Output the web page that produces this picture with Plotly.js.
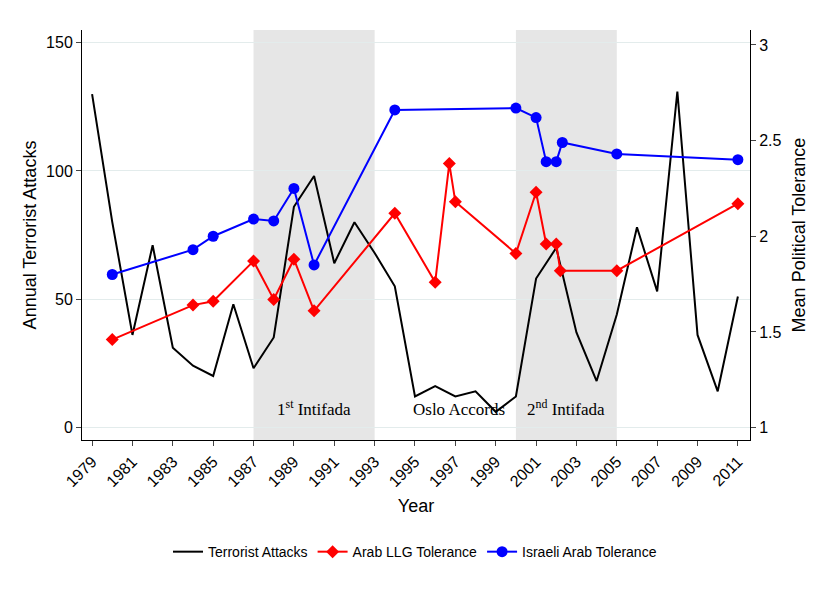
<!DOCTYPE html>
<html><head><meta charset="utf-8">
<script src="https://cdn.plot.ly/plotly-3.0.1.min.js"></script>
<style>body{margin:0;background:#fff}#chart{width:830px;height:608px}</style>
</head><body><div id="chart"></div>
<script>
// terrorist attacks per year
const attackYears = [];
for (let y = 1979; y <= 2011; y++) attackYears.push(y);
const attacks = [130, 80, 36, 71, 31, 24, 20, 48, 23, 35, 86, 98, 64, 80, 68, 55, 12, 16, 12, 14, 6, 12, 58, 70, 37, 18, 44, 78, 53, 131, 36, 14, 51];

// survey waves (Arab LLG tolerance)
const arabYears = [1980, 1984, 1985, 1987, 1988, 1989, 1990, 1994, 1996, 1996.7, 1997, 2000, 2001, 2001.5, 2002, 2002.2, 2005, 2011];
const arabTol = [1.46, 1.64, 1.66, 1.87, 1.67, 1.88, 1.61, 2.12, 1.76, 2.38, 2.18, 1.91, 2.23, 1.96, 1.96, 1.82, 1.82, 2.17];

// survey waves (Israeli Arab tolerance)
const israeliYears = [1980, 1984, 1985, 1987, 1988, 1989, 1990, 1994, 2000, 2001, 2001.5, 2002, 2002.3, 2005, 2011];
const israeliTol = [1.80, 1.93, 2.00, 2.09, 2.08, 2.25, 1.85, 2.66, 2.67, 2.62, 2.39, 2.39, 2.49, 2.43, 2.40];

const periods = [
  { x0: 1987, x1: 1993 },
  { x0: 2000, x1: 2005 }
];
const periodLabels = [
  { x: 1990, text: '1<sup>st</sup> Intifada' },
  { x: 1997.2, text: 'Oslo Accords' },
  { x: 2002.5, text: '2<sup>nd</sup> Intifada' }
];
const xTicks = [];
for (let y = 1979; y <= 2011; y += 2) xTicks.push(y);

const data = [
  { x: attackYears, y: attacks, type: 'scatter', mode: 'lines', name: 'Terrorist Attacks',
    line: { color: '#000000', width: 2 } },
  { x: arabYears, y: arabTol, yaxis: 'y2', type: 'scatter', mode: 'lines+markers', name: 'Arab LLG Tolerance',
    line: { color: '#ff0000', width: 2 }, marker: { symbol: 'diamond', size: 10, color: '#ff0000' } },
  { x: israeliYears, y: israeliTol, yaxis: 'y2', type: 'scatter', mode: 'lines+markers', name: 'Israeli Arab Tolerance',
    line: { color: '#0000ff', width: 2 }, marker: { symbol: 'circle', size: 11, color: '#0000ff' } }
];

const layout = {
  width: 830, height: 608,
  paper_bgcolor: '#fff', plot_bgcolor: '#fff',
  font: { family: 'Liberation Sans, Arial', color: '#000', size: 15 },
  margin: { l: 82, r: 80, t: 30, b: 168 },
  showlegend: true,
  legend: { orientation: 'h', x: 0.5, xanchor: 'center', xref: 'container', yref: 'container',
    y: 0.092, yanchor: 'middle', font: { size: 14 } },
  xaxis: { range: [1978.5, 2011.6], tickvals: xTicks, tickangle: -45, ticks: 'outside', automargin: false,
    showgrid: false, zeroline: false, showline: true, linecolor: '#000', tickfont: { size: 16 },
    title: { text: 'Year', font: { size: 18 }, standoff: 10 } },
  yaxis: { range: [-5, 155], tickvals: [0, 50, 100, 150], ticks: 'outside', showline: true, linecolor: '#000',
    gridcolor: '#e3ecec', zeroline: false, tickfont: { size: 16 }, automargin: false,
    title: { text: 'Annual Terrorist Attacks', font: { size: 18 } } },
  yaxis2: { overlaying: 'y', side: 'right', range: [0.935, 3.078], tickvals: [1, 1.5, 2, 2.5, 3],
    ticktext: ['1', '1.5', '2', '2.5', '3'], ticks: 'outside', showline: true, linecolor: '#000',
    showgrid: false, zeroline: false, tickfont: { size: 16 }, automargin: false,
    title: { text: 'Mean Political Tolerance', font: { size: 18 } } },
  shapes: periods.map(p => ({ type: 'rect', xref: 'x', yref: 'paper', x0: p.x0, x1: p.x1, y0: 0, y1: 1,
    fillcolor: '#e6e6e6', line: { width: 0 }, layer: 'below' })),
  annotations: periodLabels.map(a => ({ x: a.x, y: 0, xref: 'x', yref: 'y', yshift: 6, yanchor: 'bottom',
    text: a.text, showarrow: false, font: { family: 'Liberation Serif, Times New Roman', size: 17 } }))
};

Plotly.newPlot('chart', data, layout, { displayModeBar: false });
</script></body></html>
